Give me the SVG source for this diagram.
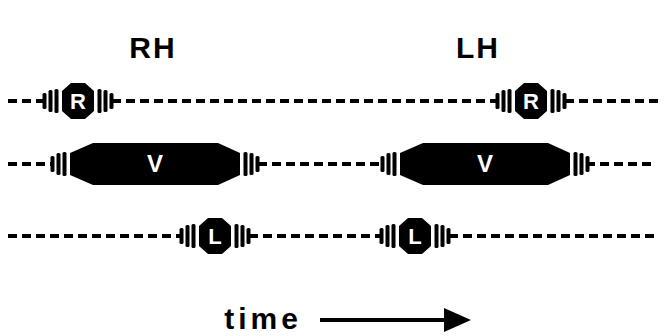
<svg xmlns="http://www.w3.org/2000/svg" xmlns:xlink="http://www.w3.org/1999/xlink" width="669" height="336" viewBox="0 0 669 336">
<style>
.dash{stroke:#000;stroke-width:4;stroke-dasharray:9 5;fill:none}
.lbl{font-family:"Liberation Sans",Arial,sans-serif;font-weight:bold;fill:#000;text-anchor:middle}
.in{font-family:"Liberation Sans",Arial,sans-serif;font-weight:bold;fill:#fff;text-anchor:middle;font-size:22px}
.body{fill:#000}
</style>
<defs>
<g id="capL"><rect x="-19.5" y="-8" width="4" height="16" rx="1.5"/><rect x="-13.5" y="-11" width="4" height="22" rx="1.5"/><rect x="-7.5" y="-12" width="4" height="24" rx="1.5"/></g>
<g id="capR"><rect x="3.5" y="-12" width="4" height="24" rx="1.5"/><rect x="9.5" y="-11" width="4" height="22" rx="1.5"/><rect x="15.5" y="-8" width="4" height="16" rx="1.5"/></g>
<path id="hex" d="M0,-10 L9,-18 L23,-18 L32,-10 L32,10 L23,18 L9,18 L0,10 Z"/>
</defs>
<g id="connectors">
<line class="dash" x1="8" y1="101" x2="44" y2="101"/>
<line class="dash" x1="112" y1="101" x2="497" y2="101"/>
<line class="dash" x1="565" y1="101" x2="662" y2="101"/>
<line class="dash" x1="8" y1="164" x2="52" y2="164"/>
<line class="dash" x1="258" y1="164" x2="382" y2="164"/>
<line class="dash" x1="586" y1="164" x2="656" y2="164"/>
<line class="dash" x1="8" y1="236" x2="181" y2="236"/>
<line class="dash" x1="249" y1="236" x2="381" y2="236"/>
<line class="dash" x1="449" y1="236" x2="654" y2="236"/>
</g>
<g id="R1" transform="translate(62,101)"><use xlink:href="#capL"/><use xlink:href="#hex"/><use xlink:href="#capR" transform="translate(32,0)"/><text class="in" x="16" y="8">R</text></g>
<g id="R2" transform="translate(515,101)"><use xlink:href="#capL"/><use xlink:href="#hex"/><use xlink:href="#capR" transform="translate(32,0)"/><text class="in" x="16" y="8">R</text></g>
<g id="V1" transform="translate(70,164)"><use xlink:href="#capL"/><path class="body" d="M0,-11 L23,-21 L148,-21 L170,-11 L170,11 L148,21 L23,21 L0,11 Z"/><use xlink:href="#capR" transform="translate(170,0)"/><text class="in" x="85" y="8" style="font-size:24px">V</text></g>
<g id="V2" transform="translate(400,164)"><use xlink:href="#capL"/><path class="body" d="M0,-11 L23,-21 L148,-21 L170,-11 L170,11 L148,21 L23,21 L0,11 Z"/><use xlink:href="#capR" transform="translate(170,0)"/><text class="in" x="85" y="8" style="font-size:24px">V</text></g>
<g id="L1" transform="translate(199,236)"><use xlink:href="#capL"/><use xlink:href="#hex"/><use xlink:href="#capR" transform="translate(32,0)"/><text class="in" x="16" y="8">L</text></g>
<g id="L2" transform="translate(399,236)"><use xlink:href="#capL"/><use xlink:href="#hex"/><use xlink:href="#capR" transform="translate(32,0)"/><text class="in" x="16" y="8">L</text></g>
<g id="labels">
<text class="lbl" x="153" y="58" font-size="30" letter-spacing="2">RH</text>
<text class="lbl" x="478" y="58" font-size="30" letter-spacing="2">LH</text>
<text class="lbl" x="263" y="329" font-size="30" letter-spacing="4">time</text>
</g>
<g id="arrow">
<line x1="320" y1="320" x2="448" y2="320" stroke="#000" stroke-width="4"/>
<polygon points="444,308 471,320 444,332" fill="#000"/>
</g>
</svg>
